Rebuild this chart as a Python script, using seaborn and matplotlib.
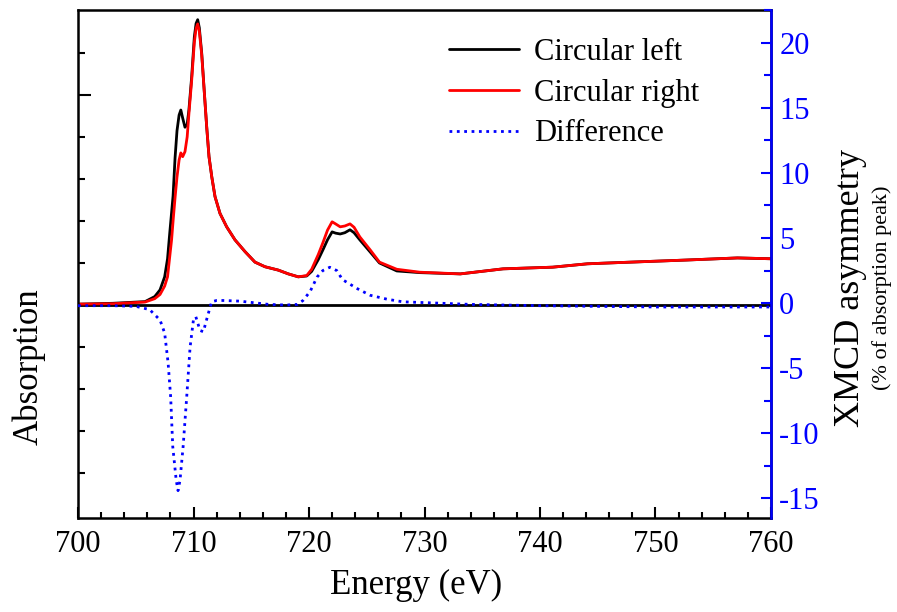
import numpy as np
import pandas as pd
import matplotlib
matplotlib.use("Agg")
import matplotlib.pyplot as plt
import seaborn as sns
from matplotlib.lines import Line2D
from matplotlib.ticker import MultipleLocator, FixedLocator

# Absorption spectra (arb. units, left axis)
energy = [700, 703, 705.8, 706.64, 707.1, 707.5, 707.75, 707.94, 708.1, 708.23, 708.4,
          708.57, 708.75, 708.9, 709.06, 709.26, 709.45, 709.6, 709.84, 710.07, 710.22,
          710.36, 710.5, 710.71, 710.94, 711.14, 711.34, 711.58, 711.86, 712.29, 712.87,
          713.59, 714.46, 715.32, 716.19, 717.34, 718.21, 719.07, 719.8, 720.23, 720.8,
          721.2, 721.6, 722.0, 722.3, 722.7, 723.1, 723.55, 723.9, 724.4, 725.3, 726.1,
          727.6, 729.6, 733.1, 736.8, 741.1, 744.1, 746.9, 752.7, 757.1, 760]
circ_left = [0.02, 0.04, 0.08, 0.2, 0.36, 0.67, 1.1, 1.71, 2.2, 2.6, 3.5,
             4.15, 4.52, 4.64, 4.45, 4.23, 4.3, 4.64, 5.43, 6.38, 6.7,
             6.79, 6.6, 5.99, 5.04, 4.24, 3.53, 3.05, 2.58, 2.18, 1.86,
             1.55, 1.27, 1.02, 0.91, 0.83, 0.74, 0.67, 0.69, 0.8, 1.08,
             1.31, 1.55, 1.74, 1.71, 1.69, 1.72, 1.79, 1.72, 1.55, 1.26, 1.0,
             0.81, 0.77, 0.74, 0.86, 0.9, 0.98, 1.01, 1.07, 1.12, 1.1]
circ_right = [0.02, 0.03, 0.07, 0.15, 0.25, 0.45, 0.67, 1.15, 1.55, 2.0, 2.55,
              3.05, 3.45, 3.62, 3.53, 3.65, 4.0, 4.55, 5.35, 6.25, 6.58,
              6.69, 6.52, 5.95, 5.04, 4.24, 3.53, 3.05, 2.58, 2.18, 1.86,
              1.55, 1.27, 1.02, 0.91, 0.83, 0.74, 0.67, 0.7, 0.85, 1.2,
              1.48, 1.78, 1.98, 1.93, 1.86, 1.88, 1.93, 1.85, 1.62, 1.31, 1.02,
              0.85, 0.78, 0.74, 0.86, 0.9, 0.98, 1.01, 1.07, 1.12, 1.1]

# XMCD difference (% of absorption peak, right axis)
diff_energy = [700, 703, 705, 706.2, 707.1, 707.5, 707.8, 708.02, 708.2, 708.5, 708.66,
               708.83, 709.1, 709.41, 709.7, 709.99, 710.2, 710.56, 710.85, 711.2, 711.57,
               712.0, 712.55, 714, 715, 716.5, 718, 719, 719.48, 720.1, 720.7, 721.2,
               721.8, 722.4, 722.9, 724.2, 725.3, 726.75, 728.1, 731.1, 734, 740, 750, 760]
difference = [-0.2, -0.2, -0.25, -0.5, -1.3, -2.3, -4.6, -7.2, -11.0, -13.6, -14.4,
              -13.6, -11.0, -7.2, -3.4, -1.3, -1.05, -2.1, -2.2, -1.05, 0.1,
              0.2, 0.2, 0.15, 0.05, -0.1, -0.15, -0.1, 0.2, 0.9, 2.0, 2.5,
              2.75, 2.5, 1.8, 1.1, 0.6, 0.3, 0.1, 0.0, -0.1, -0.2, -0.3, -0.3]

sns.set_style("ticks")
plt.rcParams['font.family'] = ['Liberation Serif', 'DejaVu Serif']
plt.rcParams['axes.unicode_minus'] = False
plt.rcParams['text.color'] = 'black'
plt.rcParams['axes.labelcolor'] = 'black'
plt.rcParams['xtick.color'] = 'black'
plt.rcParams['ytick.color'] = 'black'

fig = plt.figure(figsize=(8.97, 6.12), dpi=100)
ax = fig.add_axes([0.087, 0.1536, 0.7725, 0.830])
ax2 = ax.twinx()

df = pd.DataFrame({"E": energy, "left": circ_left, "right": circ_right})
ddf = pd.DataFrame({"E": diff_energy, "diff": difference})

ax.axhline(0, color="black", lw=2, zorder=1)
sns.lineplot(data=df, x="E", y="left", ax=ax, color="black", lw=2, sort=False, estimator=None)
sns.lineplot(data=df, x="E", y="right", ax=ax, color="red", lw=2, sort=False, estimator=None)
sns.lineplot(data=ddf, x="E", y="diff", ax=ax2, color="blue", lw=2, linestyle=":",
             sort=False, estimator=None)

ax.set_xlim(700, 760)
ax.set_ylim(-5.07, 7.02)
ax2.set_ylim(-16.5, 22.5)

ax.xaxis.set_major_locator(MultipleLocator(10))
ax.xaxis.set_minor_locator(MultipleLocator(2))
ax.yaxis.set_major_locator(FixedLocator([5]))
ax.yaxis.set_minor_locator(FixedLocator([-4, -3, -2, -1, 0, 1, 2, 3, 4, 6]))
ax.set_yticklabels([])
ax.tick_params(axis="x", which="major", direction="in", length=8, width=1.5, labelsize=22, pad=9)
ax.tick_params(axis="x", which="minor", direction="in", length=4, width=1.5)
ax.tick_params(axis="y", which="major", direction="in", length=9, width=1.5)
ax.tick_params(axis="y", which="minor", direction="in", length=5, width=1.5)
ax.tick_params(top=False, which="both")

ax2.yaxis.set_major_locator(MultipleLocator(5))
ax2.yaxis.set_minor_locator(MultipleLocator(2.5))
ax2.tick_params(axis="y", which="major", direction="in", length=7, width=1.5,
                colors="blue", labelsize=22, pad=6)
ax2.tick_params(axis="y", which="minor", direction="in", length=5, width=1.5, colors="blue")

for s in ax.spines.values():
    s.set_linewidth(1.8)
    s.set_color("black")
for name, s in ax2.spines.items():
    s.set_linewidth(1.8)
    s.set_visible(name == "right")
ax2.spines["right"].set_color("blue")

ax.set_xlabel("Energy (eV)", fontsize=25)
ax.xaxis.set_label_coords(0.488, -0.1)
ax.set_ylabel("Absorption", fontsize=25)
ax.yaxis.set_label_coords(-0.047, 0.297)
ax2.set_ylabel("")
fig.text(0.948, 0.53, "XMCD asymmetry", rotation=90, fontsize=26, ha="center", va="center")
fig.text(0.983, 0.53, "(% of absorption peak)", rotation=90, fontsize=16, ha="center", va="center")

handles = [Line2D([], [], color="black", lw=2),
           Line2D([], [], color="red", lw=2),
           Line2D([], [], color="blue", lw=2, linestyle=":")]
labels = ["Circular left", "Circular right", "Difference"]
ax2.legend(handles, labels, loc="upper right", bbox_to_anchor=(0.919, 0.975), frameon=False,
           fontsize=22, handlelength=2.3, handletextpad=0.5, labelspacing=0.38, borderpad=0)

fig.savefig("out.png", dpi=100)
